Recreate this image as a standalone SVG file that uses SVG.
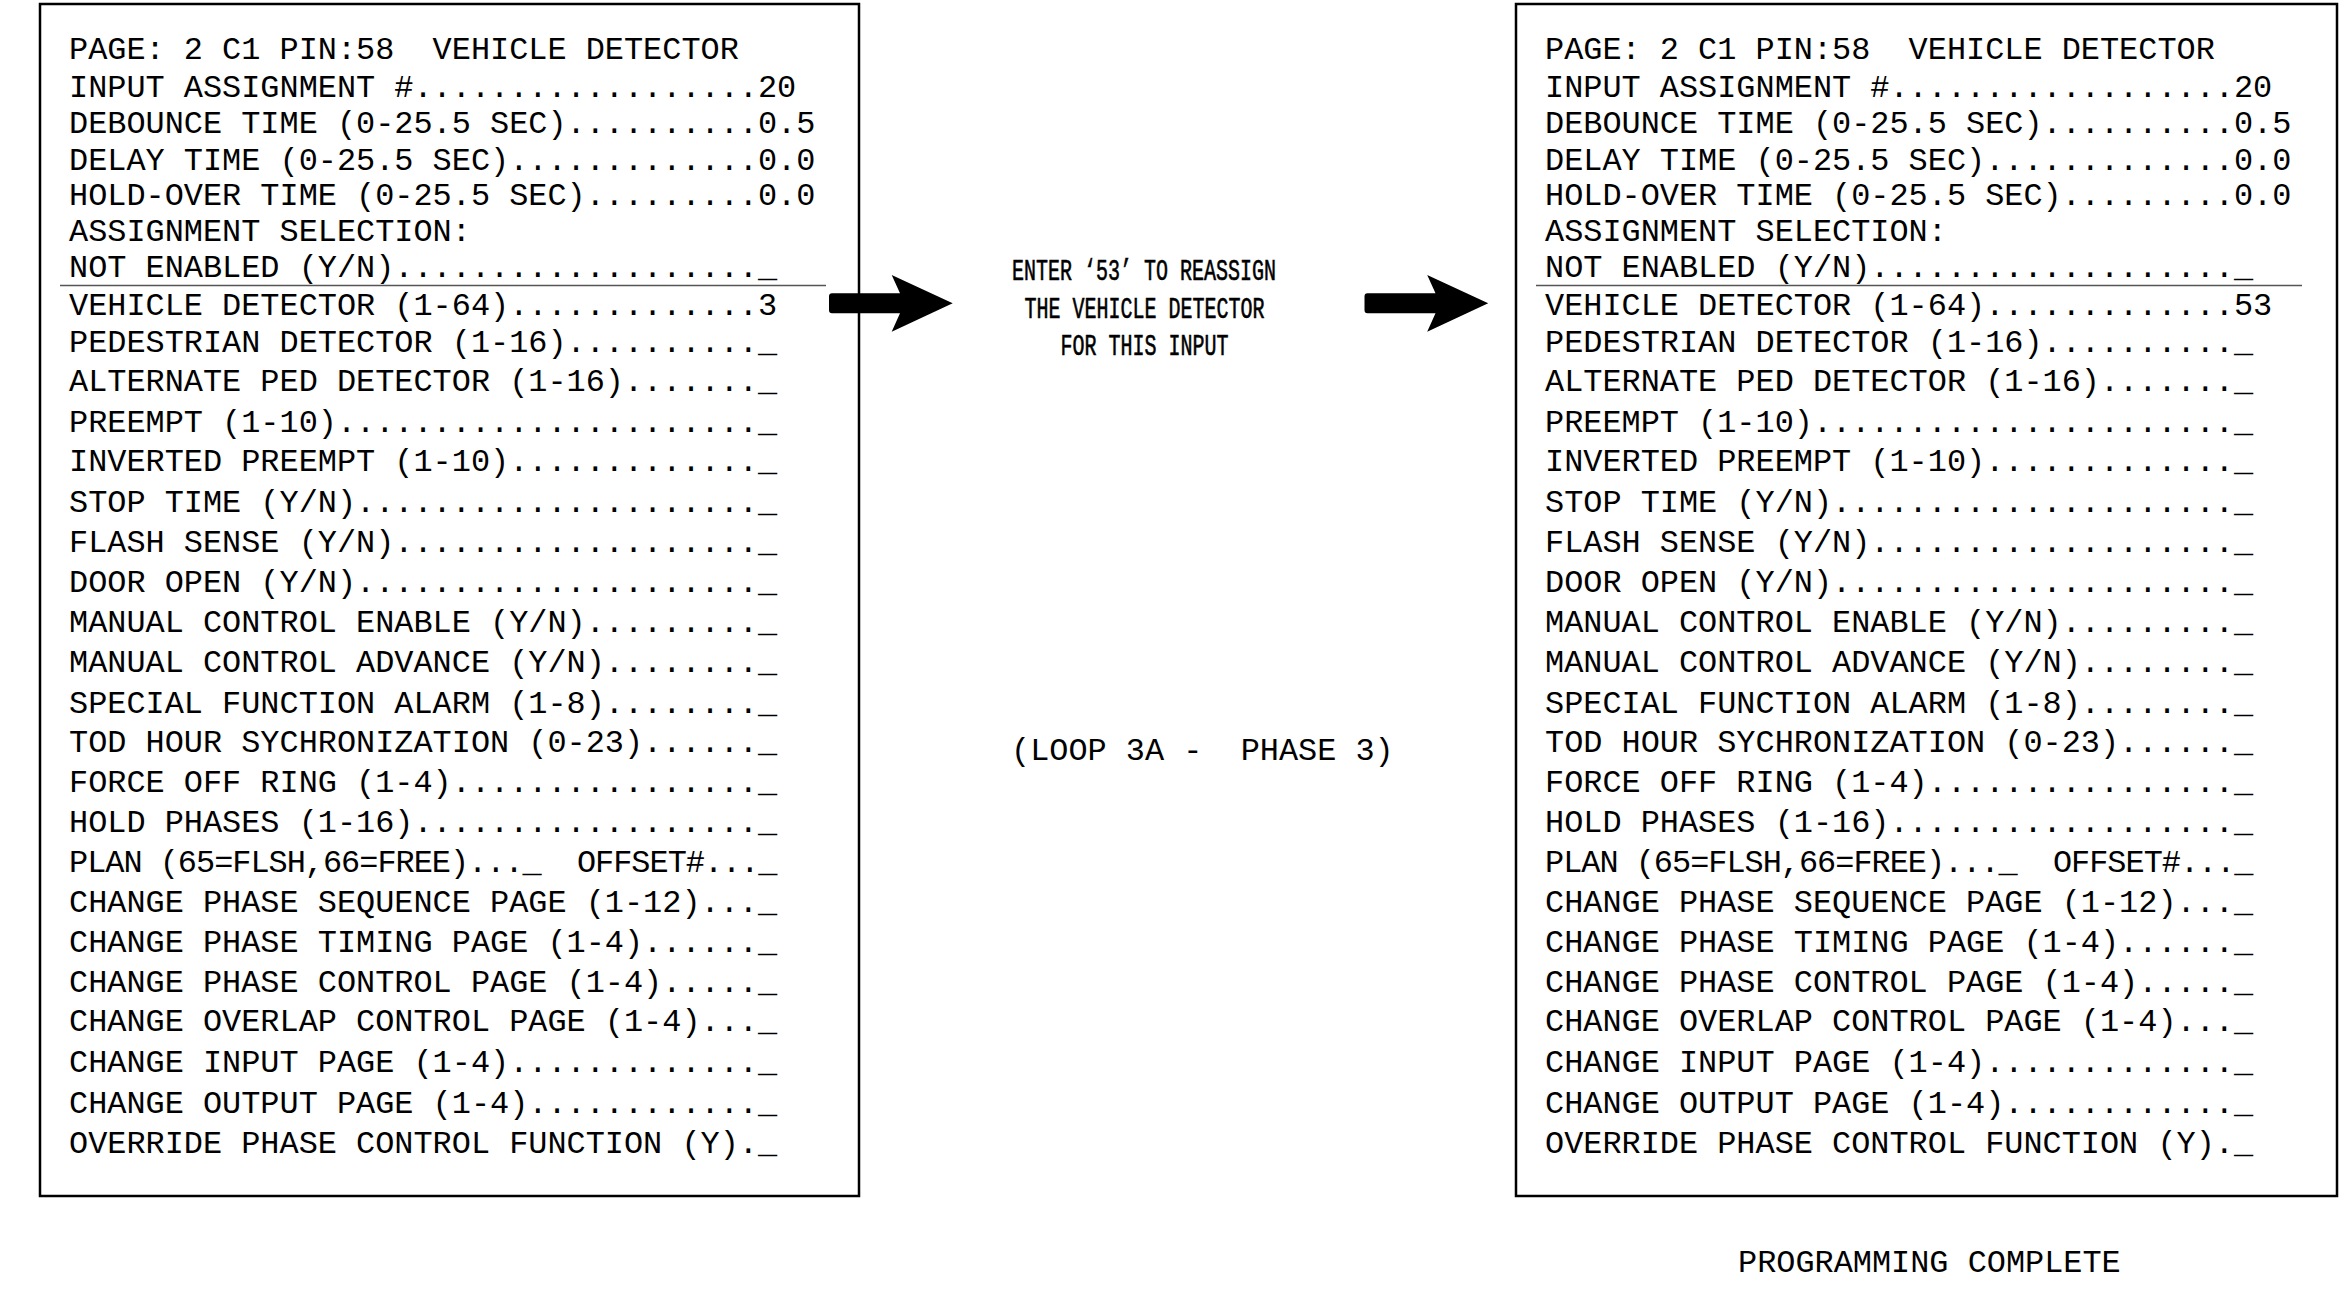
<svg xmlns="http://www.w3.org/2000/svg" width="2352" height="1289" viewBox="0 0 2352 1289">
<style>
.t{font-family:"Liberation Mono","DejaVu Sans Mono",monospace;font-size:31.9px;fill:#000;white-space:pre}
.n{font-family:"Liberation Mono","DejaVu Sans Mono",monospace;font-size:29px;fill:#000;stroke:#000;stroke-width:0.6;white-space:pre}
.box{fill:none;stroke:#000;stroke-width:2.5}
.sep{stroke:#555;stroke-width:1.5}
.arrow{fill:#000}
</style>
<defs>
<path id="arr" d="M832,293.3 L900,293.3 L891.7,275 L952.7,303.3 L891.7,331.7 L900,313.3 L832,313.3 Q829,313.3 829,310 L829,296.6 Q829,293.3 832,293.3 Z"/>
</defs>
<rect width="2352" height="1289" fill="#fff"/>
<g id="screen-before">
<rect class="box" x="40" y="4" width="819" height="1192"/>
<line class="sep" x1="60" y1="285.5" x2="826" y2="285.5"/>
<text class="t" x="69" y="58.5">PAGE: 2 C1 PIN:58  VEHICLE DETECTOR</text>
<text class="t" x="69" y="96.5">INPUT ASSIGNMENT #..................20</text>
<text class="t" x="69" y="133">DEBOUNCE TIME (0-25.5 SEC)..........0.5</text>
<text class="t" x="69" y="169.5">DELAY TIME (0-25.5 SEC).............0.0</text>
<text class="t" x="69" y="205">HOLD-OVER TIME (0-25.5 SEC).........0.0</text>
<text class="t" x="69" y="240.5">ASSIGNMENT SELECTION:</text>
<text class="t" x="69" y="277">NOT ENABLED (Y/N)..................._</text>
<text class="t" x="69" y="314.5">VEHICLE DETECTOR (1-64).............3</text>
<text class="t" x="69" y="352">PEDESTRIAN DETECTOR (1-16).........._</text>
<text class="t" x="69" y="391">ALTERNATE PED DETECTOR (1-16)......._</text>
<text class="t" x="69" y="431.5">PREEMPT (1-10)......................_</text>
<text class="t" x="69" y="471">INVERTED PREEMPT (1-10)............._</text>
<text class="t" x="69" y="512">STOP TIME (Y/N)....................._</text>
<text class="t" x="69" y="552">FLASH SENSE (Y/N)..................._</text>
<text class="t" x="69" y="592">DOOR OPEN (Y/N)....................._</text>
<text class="t" x="69" y="632">MANUAL CONTROL ENABLE (Y/N)........._</text>
<text class="t" x="69" y="672">MANUAL CONTROL ADVANCE (Y/N)........_</text>
<text class="t" x="69" y="713">SPECIAL FUNCTION ALARM (1-8)........_</text>
<text class="t" x="69" y="752">TOD HOUR SYCHRONIZATION (0-23)......_</text>
<text class="t" x="69" y="792">FORCE OFF RING (1-4)................_</text>
<text class="t" x="69" y="832">HOLD PHASES (1-16).................._</text>
<text class="t" x="69" y="872" textLength="708.5" lengthAdjust="spacing">PLAN (65=FLSH,66=FREE)..._  OFFSET#..._</text>
<text class="t" x="69" y="912">CHANGE PHASE SEQUENCE PAGE (1-12)..._</text>
<text class="t" x="69" y="951.5">CHANGE PHASE TIMING PAGE (1-4)......_</text>
<text class="t" x="69" y="991.5">CHANGE PHASE CONTROL PAGE (1-4)....._</text>
<text class="t" x="69" y="1031">CHANGE OVERLAP CONTROL PAGE (1-4)..._</text>
<text class="t" x="69" y="1072">CHANGE INPUT PAGE (1-4)............._</text>
<text class="t" x="69" y="1112.5">CHANGE OUTPUT PAGE (1-4)............_</text>
<text class="t" x="69" y="1153">OVERRIDE PHASE CONTROL FUNCTION (Y)._</text>
</g>
<g id="connectors">
<use href="#arr" class="arrow"/>
<use href="#arr" class="arrow" transform="translate(535.5,0)"/>
</g>
<g id="note-reassign">
<text class="n" x="1012" y="280" textLength="264" lengthAdjust="spacingAndGlyphs">ENTER ‘53’ TO REASSIGN</text>
<text class="n" x="1024.5" y="317.5" textLength="240" lengthAdjust="spacingAndGlyphs">THE VEHICLE DETECTOR</text>
<text class="n" x="1060.5" y="355" textLength="168" lengthAdjust="spacingAndGlyphs">FOR THIS INPUT</text>
</g>
<g id="note-loop">
<text class="t" x="1011" y="760">(LOOP 3A -  PHASE 3)</text>
</g>
<g id="screen-after">
<rect class="box" x="1516" y="4" width="821" height="1192"/>
<line class="sep" x1="1536" y1="285.5" x2="2302" y2="285.5"/>
<text class="t" x="1545" y="58.5">PAGE: 2 C1 PIN:58  VEHICLE DETECTOR</text>
<text class="t" x="1545" y="96.5">INPUT ASSIGNMENT #..................20</text>
<text class="t" x="1545" y="133">DEBOUNCE TIME (0-25.5 SEC)..........0.5</text>
<text class="t" x="1545" y="169.5">DELAY TIME (0-25.5 SEC).............0.0</text>
<text class="t" x="1545" y="205">HOLD-OVER TIME (0-25.5 SEC).........0.0</text>
<text class="t" x="1545" y="240.5">ASSIGNMENT SELECTION:</text>
<text class="t" x="1545" y="277">NOT ENABLED (Y/N)..................._</text>
<text class="t" x="1545" y="314.5">VEHICLE DETECTOR (1-64).............53</text>
<text class="t" x="1545" y="352">PEDESTRIAN DETECTOR (1-16).........._</text>
<text class="t" x="1545" y="391">ALTERNATE PED DETECTOR (1-16)......._</text>
<text class="t" x="1545" y="431.5">PREEMPT (1-10)......................_</text>
<text class="t" x="1545" y="471">INVERTED PREEMPT (1-10)............._</text>
<text class="t" x="1545" y="512">STOP TIME (Y/N)....................._</text>
<text class="t" x="1545" y="552">FLASH SENSE (Y/N)..................._</text>
<text class="t" x="1545" y="592">DOOR OPEN (Y/N)....................._</text>
<text class="t" x="1545" y="632">MANUAL CONTROL ENABLE (Y/N)........._</text>
<text class="t" x="1545" y="672">MANUAL CONTROL ADVANCE (Y/N)........_</text>
<text class="t" x="1545" y="713">SPECIAL FUNCTION ALARM (1-8)........_</text>
<text class="t" x="1545" y="752">TOD HOUR SYCHRONIZATION (0-23)......_</text>
<text class="t" x="1545" y="792">FORCE OFF RING (1-4)................_</text>
<text class="t" x="1545" y="832">HOLD PHASES (1-16).................._</text>
<text class="t" x="1545" y="872" textLength="708.5" lengthAdjust="spacing">PLAN (65=FLSH,66=FREE)..._  OFFSET#..._</text>
<text class="t" x="1545" y="912">CHANGE PHASE SEQUENCE PAGE (1-12)..._</text>
<text class="t" x="1545" y="951.5">CHANGE PHASE TIMING PAGE (1-4)......_</text>
<text class="t" x="1545" y="991.5">CHANGE PHASE CONTROL PAGE (1-4)....._</text>
<text class="t" x="1545" y="1031">CHANGE OVERLAP CONTROL PAGE (1-4)..._</text>
<text class="t" x="1545" y="1072">CHANGE INPUT PAGE (1-4)............._</text>
<text class="t" x="1545" y="1112.5">CHANGE OUTPUT PAGE (1-4)............_</text>
<text class="t" x="1545" y="1153">OVERRIDE PHASE CONTROL FUNCTION (Y)._</text>
</g>
<g id="note-complete">
<text class="t" x="1738" y="1272">PROGRAMMING COMPLETE</text>
</g>
</svg>
